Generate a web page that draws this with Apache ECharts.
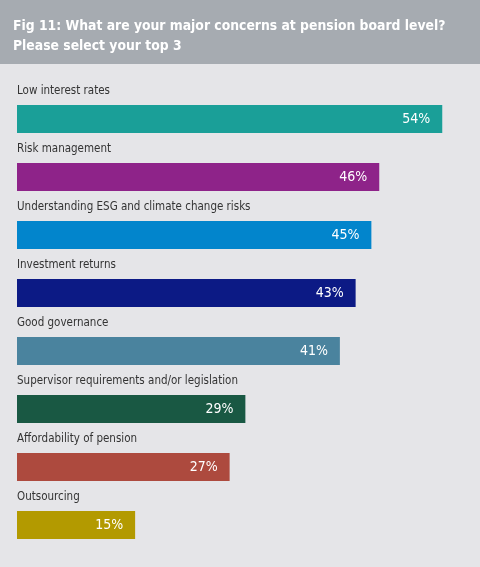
<!DOCTYPE html>
<html>
<head>
<meta charset="utf-8">
<script src="https://cdn.jsdelivr.net/npm/echarts@6/dist/echarts.min.js"></script>
<style>
  html, body { margin: 0; padding: 0; background: #e5e5e8; }
  #chart { width: 480px; height: 567px; }
</style>
</head>
<body>
<div id="chart"></div>
<script>
// data
let categories = [
    'Low interest rates',
    'Risk management',
    'Understanding ESG and climate change risks',
    'Investment returns',
    'Good governance',
    'Supervisor requirements and/or legislation',
    'Affordability of pension',
    'Outsourcing'
]
let shares = [54, 46, 45, 43, 41, 29, 27, 15]
let barColors = ['#1a9f98', '#8e2389', '#0285cc', '#0c1a85', '#4a839e', '#195843', '#ad4a3e', '#b39a00']

let titleText = 'Fig 11: What are your major concerns at pension board level?\nPlease select your top 3'
let fontName = "'DejaVu Sans Condensed', Lato, sans-serif"

let setChart = function(ele, options) {
    if (typeof echarts === 'object') {
        let myChart = echarts.init(ele)
        myChart.setOption(options)
        return myChart
    }
}

let options = {
    backgroundColor: '#e5e5e8',
    animation: false,
    graphic: [{
        type: 'rect',
        left: 0, top: 0,
        shape: { width: 480, height: 64 },
        style: { fill: '#a6abb1' },
        z: -1
    }],
    title: {
        text: titleText,
        left: 8, top: 11,
        textStyle: {
            color: '#ffffff',
            fontFamily: fontName,
            fontSize: 13.8,
            fontWeight: 'bold',
            lineHeight: 20
        }
    },
    grid: { left: 17, right: 22, top: 90, bottom: 13 },
    xAxis: {
        type: 'value',
        min: 0, max: 56,
        show: false
    },
    yAxis: {
        type: 'category',
        data: categories,
        inverse: true,
        show: false
    },
    series: [{
        type: 'bar',
        data: shares.map((v, i) => ({ value: v, itemStyle: { color: barColors[i] } })),
        barWidth: 28,
        label: {
            show: true,
            position: 'insideRight',
            distance: 12,
            formatter: '{c}%',
            color: '#ffffff',
            fontFamily: fontName,
            fontSize: 14
        }
    }, {
        // invisible twin bar that carries the category names above each bar
        type: 'bar',
        data: shares,
        barWidth: 28,
        barGap: '-100%',
        itemStyle: { color: 'rgba(0,0,0,0)' },
        label: {
            show: true,
            position: [0, -20],
            formatter: '{b}',
            color: '#333333',
            fontFamily: fontName,
            fontSize: 11.5
        }
    }]
}

setChart(document.getElementById('chart'), options)
</script>
</body>
</html>
